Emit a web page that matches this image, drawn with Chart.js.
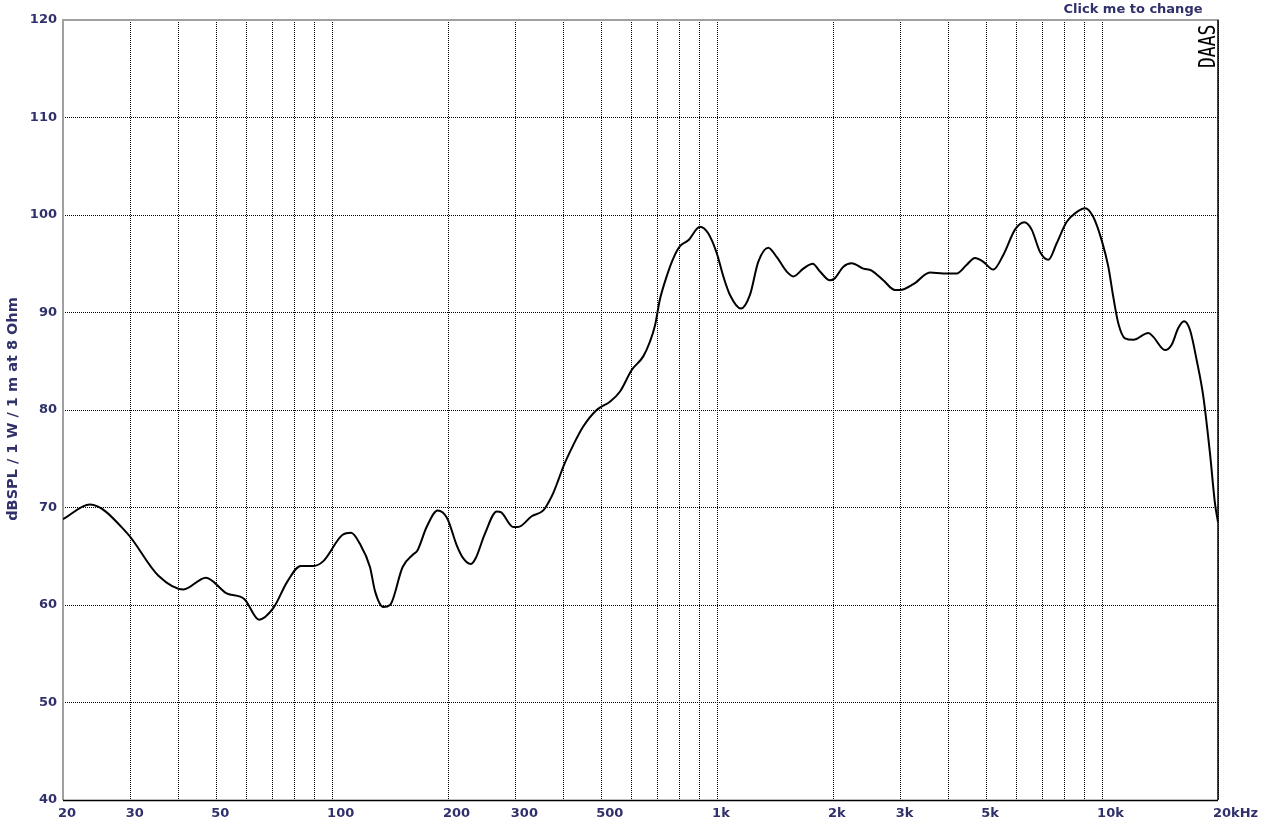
<!DOCTYPE html>
<html>
<head>
<meta charset="utf-8">
<script src="https://cdn.jsdelivr.net/npm/chart.js@4/dist/chart.umd.min.js"></script>
<style>
  html, body { margin: 0; padding: 0; background: #ffffff; }
  canvas { display: block; }
</style>
</head>
<body>
<canvas id="c" width="1271" height="824"></canvas>
<script>
// ---- data ----
const freqs = [20, 23.5, 29.3, 35.4, 41.1, 47.0, 53.2, 59.2, 64.6, 70.4, 76.5, 82.9, 89.4, 94.9,
  106.5, 112, 118, 125.4, 129.3, 135.8, 141.4, 152.5, 162.5, 166.6, 176, 188, 199, 210.6, 219,
  229, 236, 249.6, 267.7, 275, 295.6, 304, 330, 353.6, 368, 375, 386.8, 398.6, 423, 449, 486.6,
  527, 559.6, 600, 643, 669, 690, 710, 739.6, 769.6, 801, 841.8, 902.6, 948.8, 997.6, 1038,
  1080, 1153.6, 1217, 1279, 1358, 1428, 1516, 1577, 1675, 1771.6, 1850, 1964, 2020, 2128,
  2236, 2398, 2520, 2702, 2898, 2986, 3234, 3572, 3868, 4191, 4451, 4676, 4915, 5218, 5538,
  5940, 6280, 6562, 6900, 7249, 7621, 8092, 8590, 9028, 9488, 9976, 10378, 10692, 11016,
  11466, 12052, 13185, 13582, 14566, 15160, 15772, 16318, 16917, 17608, 18316, 19064, 19644, 20000];
const spl = [68.8, 70.3, 67.4, 63.0, 61.6, 62.8, 61.2, 60.6, 58.5, 59.7, 62.4, 64.0, 64.0, 64.5,
  67.2, 67.4, 66.3, 63.9, 61.4, 59.8, 60.0, 63.9, 65.2, 65.6, 68.0, 69.7, 68.9, 66.15, 64.8,
  64.2, 64.8, 67.35, 69.6, 69.5, 68.0, 68.0, 69.1, 69.7, 70.8, 71.45, 72.8, 74.2, 76.4, 78.3, 80.0,
  80.85, 81.9, 84.1, 85.5, 87.0, 88.7, 91.3, 93.7, 95.55, 96.8, 97.4, 98.8, 98.1, 96.1, 93.7,
  91.8, 90.4, 91.8, 95.2, 96.65, 95.7, 94.2, 93.7, 94.5, 95.0, 94.2, 93.3, 93.5, 94.7,
  95.05, 94.5, 94.3, 93.3, 92.3, 92.3, 92.9, 94.1, 94.0, 94.0, 94.9, 95.6, 95.2, 94.4, 95.9,
  98.5, 99.25, 98.5, 96.2, 95.4, 97.1, 99.3, 100.3, 100.7, 99.8, 97.4, 94.7, 91.6, 88.9,
  87.35, 87.2, 87.9, 87.5, 86.15, 86.7, 88.4, 89.1, 88.2, 85.1, 81.4, 75.55, 70.4, 68.5];

const gridFreqs = [20, 30, 40, 50, 60, 70, 80, 90, 100, 200, 300, 400, 500, 600, 700, 800, 900,
  1000, 2000, 3000, 4000, 5000, 6000, 7000, 8000, 9000, 10000, 20000];
const xLabelValues = [20, 30, 50, 100, 200, 300, 500, 1000, 2000, 3000, 5000, 10000, 20000];
const xLabelTexts = ['20', '30', '50', '100', '200', '300', '500', '1k', '2k', '3k', '5k', '10k', '20kHz'];
const yMin = 40, yMax = 120, yStep = 10;
const yTitle = 'dBSPL / 1 W / 1 m at 8 Ohm';
const topTitle = 'Click me to change';
const brand = 'DAAS';

const NAVY = '#30306a';
const LABEL_FONT = 'bold 13px "DejaVu Sans"';

const decorPlugin = {
  id: 'decor',
  beforeDatasetsDraw(chart) {
    const { ctx, chartArea: { left, right, top, bottom } } = chart;
    ctx.save();
    ctx.setLineDash([]);
    ctx.lineWidth = 2;
    ctx.strokeStyle = '#a0a0a0';
    ctx.beginPath();
    ctx.moveTo(left, bottom);
    ctx.lineTo(left, top);
    ctx.lineTo(right + 1, top);
    ctx.stroke();
    ctx.lineWidth = 1.5;
    ctx.strokeStyle = '#000000';
    ctx.beginPath();
    ctx.moveTo(left, bottom + 0.5);
    ctx.lineTo(right, bottom + 0.5);
    ctx.moveTo(right, bottom);
    ctx.lineTo(right, top);
    ctx.stroke();
    ctx.restore();
  },
  afterDraw(chart) {
    const { ctx, chartArea: { left, right, top, bottom } } = chart;
    const xs = chart.scales.x;
    ctx.save();
    ctx.font = LABEL_FONT;
    ctx.fillStyle = NAVY;
    ctx.textAlign = 'left';
    ctx.textBaseline = 'middle';
    xLabelValues.forEach((v, i) => {
      const px = xs.getPixelForValue(v);
      ctx.fillText(xLabelTexts[i], px - 5, bottom + 14);
    });
    // y axis title
    ctx.save();
    ctx.font = 'bold 14.5px "DejaVu Sans"';
    ctx.translate(13, (top + bottom) / 2 - 1);
    ctx.rotate(-Math.PI / 2);
    ctx.textAlign = 'center';
    ctx.fillText(yTitle, 0, 0);
    ctx.restore();
    // top title
    ctx.textAlign = 'center';
    ctx.fillText(topTitle, 1133, 10);
    // brand
    ctx.save();
    ctx.translate(right - 9, top + 48);
    ctx.rotate(-Math.PI / 2);
    ctx.scale(1, 1.3);
    ctx.fillStyle = '#000000';
    ctx.font = '18px "DejaVu Sans Mono"';
    ctx.textAlign = 'left';
    ctx.textBaseline = 'middle';
    ctx.fillText(brand, 0, 0);
    ctx.restore();
    ctx.restore();
  }
};

new Chart(document.getElementById('c'), {
  type: 'line',
  data: {
    datasets: [{
      data: freqs.map((f, i) => ({ x: f, y: spl[i] })),
      borderColor: '#000000',
      borderWidth: 2,
      pointRadius: 0,
      fill: false,
      cubicInterpolationMode: 'monotone'
    }]
  },
  options: {
    responsive: false,
    animation: false,
    layout: { padding: { left: 0, right: 53, top: 20, bottom: 0 } },
    plugins: { legend: { display: false }, tooltip: { enabled: false }, title: { display: false } },
    scales: {
      x: {
        type: 'logarithmic',
        min: 20,
        max: 20000,
        afterBuildTicks: (s) => { s.ticks = gridFreqs.map(v => ({ value: v })); },
        afterFit: (s) => { s.height = 24; },
        ticks: { display: false },
        grid: { color: '#000000', lineWidth: 1, drawTicks: false },
        border: { display: false, dash: [1, 1] }
      },
      y: {
        min: yMin,
        max: yMax,
        afterFit: (s) => { s.width = 63; },
        ticks: {
          stepSize: yStep,
          padding: 6,
          color: NAVY,
          font: { family: 'DejaVu Sans', size: 13, weight: 'bold' }
        },
        grid: { color: '#000000', lineWidth: 1, drawTicks: false },
        border: { display: false, dash: [1, 1] }
      }
    }
  },
  plugins: [decorPlugin]
});
</script>
</body>
</html>
